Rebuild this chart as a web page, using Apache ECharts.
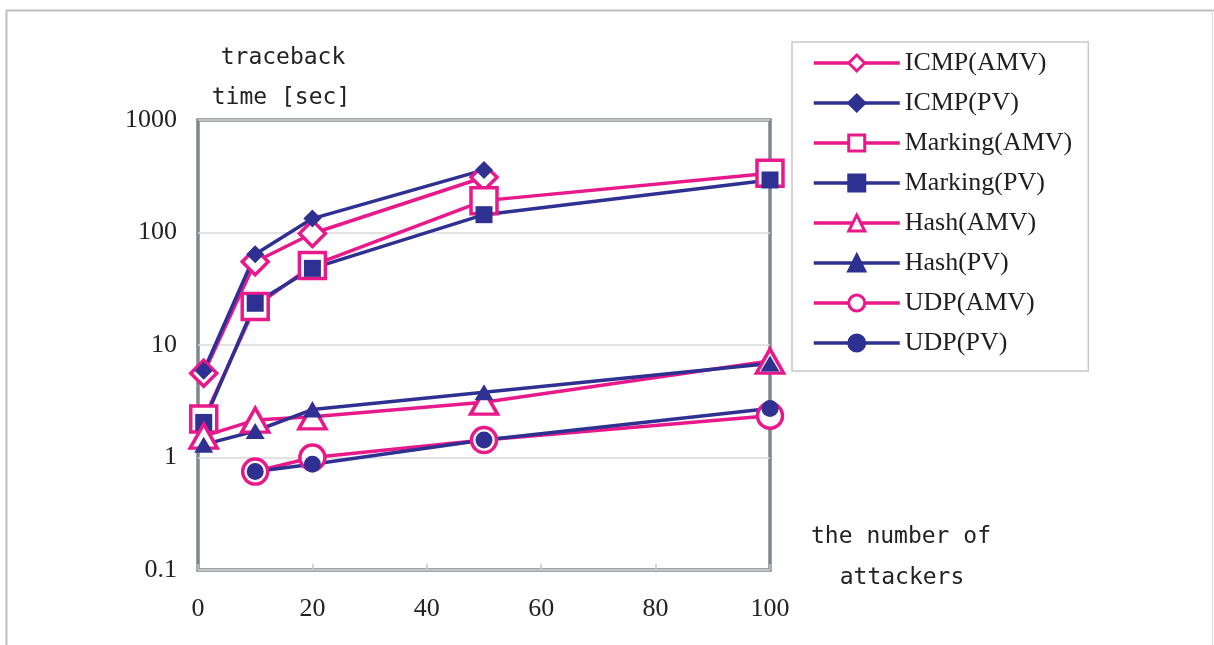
<!DOCTYPE html>
<html>
<head>
<meta charset="utf-8">
<script src="https://cdn.jsdelivr.net/npm/echarts@6/dist/echarts.min.js"></script>
<style>
html,body{margin:0;padding:0;background:#fff;}
#chart{width:1214px;height:645px;}
</style>
</head>
<body>
<div id="chart"></div>
<script>
// ---- data ----
const xValues = [1, 10, 20, 50, 100];
const xTicks = [0, 20, 40, 60, 80, 100];
const yTicks = [0.1, 1, 10, 100, 1000];
const seriesNames = ['ICMP(AMV)', 'ICMP(PV)', 'Marking(AMV)', 'Marking(PV)', 'Hash(AMV)', 'Hash(PV)', 'UDP(AMV)', 'UDP(PV)'];
const icmpAMV = [5.6, 55, 98, 310, null];
const icmpPV = [5.9, 64, 133, 360, null];
const markingAMV = [2.2, 22, 51, 192, 336];
const markingPV = [2.05, 23.5, 48, 144, 293];
const hashAMV = [1.55, 2.15, 2.3, 3.1, 7.2];
const hashPV = [1.3, 1.72, 2.67, 3.8, 6.85];
const udpAMV = [null, 0.75, 1.0, 1.43, 2.35];
const udpPV = [null, 0.75, 0.87, 1.43, 2.72];
const yTitle = ['traceback', 'time [sec]'];
const xTitle = ['the number of', 'attackers'];

const PINK = '#e8198b';
const NAVY = '#2e3192';

function pairs(vals) {
  const out = [];
  vals.forEach((v, i) => { if (v !== null) out.push([xValues[i], v]); });
  return out;
}

function hollow(name, vals, symbol, size) {
  return {
    name: name, type: 'line', data: pairs(vals),
    symbol: symbol, symbolSize: size, showSymbol: true,
    lineStyle: { color: PINK, width: 3.5 },
    itemStyle: { color: '#ffffff', borderColor: PINK, borderWidth: 3.5 },
    emphasis: { disabled: true }, animation: false
  };
}
function filled(name, vals, symbol, size) {
  return {
    name: name, type: 'line', data: pairs(vals),
    symbol: symbol, symbolSize: size, showSymbol: true,
    lineStyle: { color: NAVY, width: 3.5 },
    itemStyle: { color: NAVY, borderColor: NAVY, borderWidth: 0 },
    emphasis: { disabled: true }, animation: false
  };
}

const chart = echarts.init(document.getElementById('chart'), null, { renderer: 'canvas' });

const titleFont = { fontFamily: 'DejaVu Sans Mono', fontSize: 23, fill: '#222' };

chart.setOption({
  backgroundColor: '#ffffff',
  animation: false,
  grid: {
    left: 198, top: 120, width: 572, height: 450,
    show: true, borderColor: '#7f878e', borderWidth: 3.5, backgroundColor: 'transparent'
  },
  xAxis: {
    type: 'value', min: 0, max: 100, interval: 20,
    axisLine: { show: false },
    axisTick: { show: true, inside: true, length: 6, lineStyle: { color: '#c8c8c8', width: 1.5 } },
    splitLine: { show: false },
    axisLabel: {
      margin: 26, color: '#222', fontFamily: 'Liberation Serif', fontSize: 26,
      formatter: function (v) { return xTicks.indexOf(v) >= 0 ? String(v) : ''; }
    }
  },
  yAxis: {
    type: 'log', logBase: 10, min: yTicks[0], max: yTicks[yTicks.length - 1],
    axisLine: { show: false },
    axisTick: { show: false },
    minorTick: { show: false },
    splitLine: { show: true, lineStyle: { color: '#d9d9d9', width: 1.5 } },
    axisLabel: {
      margin: 21, color: '#222', fontFamily: 'Liberation Serif', fontSize: 26,
      formatter: function (v) {
        let best = yTicks[0];
        yTicks.forEach(t => { if (Math.abs(Math.log10(t) - Math.log10(v)) < Math.abs(Math.log10(best) - Math.log10(v))) best = t; });
        return String(best);
      }
    }
  },
  legend: {
    orient: 'vertical', left: 792, top: 42,
    padding: [8, 16, 15, 20],
    itemWidth: 86, itemHeight: 20, itemGap: 14,
    backgroundColor: '#ffffff', borderColor: '#c8c8c8', borderWidth: 1.5, borderRadius: 0,
    lineStyle: { width: 3.5 },
    itemStyle: { borderWidth: 3 },
    textStyle: { fontFamily: 'Liberation Serif', fontSize: 26, color: '#1e1e1e', lineHeight: 26 },
    data: seriesNames,
    selectedMode: false
  },
  graphic: [
    { type: 'line', shape: { x1: 6, y1: 10.5, x2: 1214, y2: 10.5 }, style: { stroke: '#bdbdbd', lineWidth: 2 }, silent: true },
    { type: 'line', shape: { x1: 6.5, y1: 10, x2: 6.5, y2: 645 }, style: { stroke: '#bdbdbd', lineWidth: 2 }, silent: true },
    { type: 'line', shape: { x1: 1212.5, y1: 10, x2: 1212.5, y2: 645 }, style: { stroke: '#dddddd', lineWidth: 1 }, silent: true },
    { type: 'text', x: 283, y: 58, style: Object.assign({ text: yTitle[0], textAlign: 'center', textVerticalAlign: 'middle' }, titleFont), silent: true },
    { type: 'text', x: 281, y: 98, style: Object.assign({ text: yTitle[1], textAlign: 'center', textVerticalAlign: 'middle' }, titleFont), silent: true },
    { type: 'text', x: 901, y: 537, style: Object.assign({ text: xTitle[0], textAlign: 'center', textVerticalAlign: 'middle' }, titleFont), silent: true },
    { type: 'text', x: 902, y: 578, style: Object.assign({ text: xTitle[1], textAlign: 'center', textVerticalAlign: 'middle' }, titleFont), silent: true }
  ],
  series: [
    hollow(seriesNames[0], icmpAMV, 'diamond', 26),
    filled(seriesNames[1], icmpPV, 'diamond', 18),
    hollow(seriesNames[2], markingAMV, 'rect', 26),
    filled(seriesNames[3], markingPV, 'rect', 17),
    hollow(seriesNames[4], hashAMV, 'triangle', [27, 24]),
    filled(seriesNames[5], hashPV, 'triangle', [19, 16]),
    hollow(seriesNames[6], udpAMV, 'circle', 25),
    filled(seriesNames[7], udpPV, 'circle', 17)
  ]
});
</script>
</body>
</html>
